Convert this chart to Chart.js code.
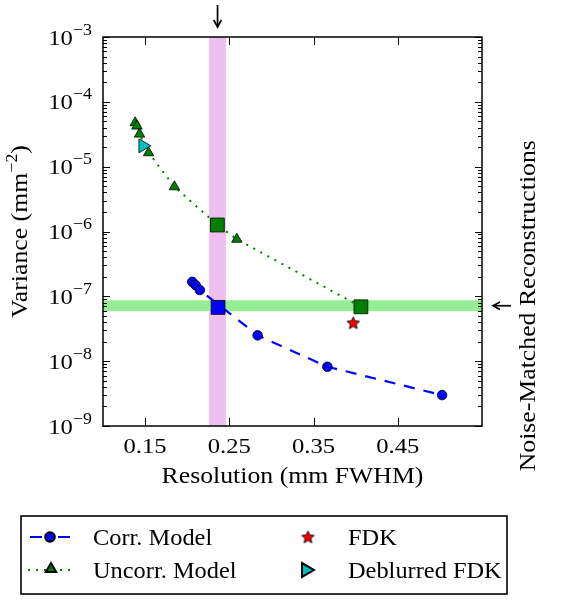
<!DOCTYPE html>
<html>
<head>
<meta charset="utf-8">
<script src="https://cdn.jsdelivr.net/npm/chart.js@4.4.1/dist/chart.umd.min.js"></script>
<style>
  html, body { margin: 0; padding: 0; background: #fff; }
  canvas { display: block; }
</style>
</head>
<body>
<canvas id="chart" width="570" height="601"></canvas>
<script>
// resolution (mm FWHM) / variance (mm^-2)
const corrRes = [0.206, 0.210, 0.215, 0.2836, 0.3664, 0.5026];
const corrVar = [1.67e-7, 1.49e-7, 1.25e-7, 2.5e-8, 8.2e-9, 3.0e-9];
const uncorrRes = [0.1382, 0.1403, 0.1434, 0.1541, 0.1848, 0.2358, 0.2589, 0.4062];
const uncorrVar = [4.75e-5, 4.23e-5, 3.18e-5, 1.64e-5, 4.9e-6, 1.26e-6, 7.6e-7, 6.9e-8];
const fdkRes = [0.3971];
const fdkVar = [3.9e-8];
const deblurRes = [0.1474];
const deblurVar = [2.1e-5];
// matched reconstructions (the squares)
const corrMatchRes = [0.2366];
const corrMatchVar = [6.75e-8];
const uncorrMatchRes = [0.2358, 0.4062];
const uncorrMatchVar = [1.26e-6, 6.9e-8];

// shaded bands: matched resolution and matched noise
const resBand = [0.226, 0.246];
const noiseBand = [5.9e-8, 8.7e-8];

const xTicks = [0.15, 0.25, 0.35, 0.45];
const yTickExps = [-9, -8, -7, -6, -5, -4, -3];

const SERIF = '"Liberation Serif", "DejaVu Serif", serif';
const TXT = 23;
const SX = 1.12; // stretch so the serif is about as wide as the original TeX font
function font(px) { return px + 'px ' + SERIF; }
function pts(xs, ys) { return xs.map((x, i) => ({ x: x, y: ys[i] })); }

// filled 5 point star for FDK (Chart.js 'star' is only an asterisk)
function makeStar(r) {
    const c = document.createElement('canvas');
    const s = Math.ceil(r * 2 + 4);
    c.width = s; c.height = s;
    const g = c.getContext('2d');
    g.beginPath();
    for (let i = 0; i < 10; i++) {
        const rr = i % 2 ? r * 0.48 : r;
        const a = -Math.PI / 2 + i * Math.PI / 5;
        g.lineTo(s / 2 + rr * Math.cos(a), s / 2 + rr * Math.sin(a) + 0.5);
    }
    g.closePath();
    g.fillStyle = '#ff0000';
    g.fill();
    g.lineWidth = 0.9;
    g.strokeStyle = '#000';
    g.stroke();
    return c;
}
const starImg = makeStar(6.5);

// text pieces: [text, size, rise]
function partsWidth(ctx, parts, sx) {
    let w = 0;
    parts.forEach(p => { ctx.font = font(p[1]); w += ctx.measureText(p[0]).width; });
    return w * (sx || SX);
}
function drawParts(ctx, parts, x, y, sx) {
    ctx.save();
    ctx.translate(x, y);
    ctx.scale(sx || SX, 1);
    ctx.textAlign = 'left';
    ctx.textBaseline = 'alphabetic';
    let cx = 0;
    parts.forEach(p => {
        ctx.font = font(p[1]);
        ctx.fillText(p[0], cx, -p[2]);
        cx += ctx.measureText(p[0]).width;
    });
    ctx.restore();
}
function label(ctx, text, x, y, align, sx) {
    const parts = [[text, TXT, 0]];
    const w = partsWidth(ctx, parts, sx);
    drawParts(ctx, parts, align === 'center' ? x - w / 2 : x, y, sx);
}
function seg(ctx, x0, y0, x1, y1) {
    ctx.beginPath();
    ctx.moveTo(x0, y0);
    ctx.lineTo(x1, y1);
    ctx.stroke();
}
function arrow(ctx, x0, y0, x1, y1) {
    const a = Math.atan2(y1 - y0, x1 - x0);
    const h = 8;
    seg(ctx, x0, y0, x1, y1);
    ctx.beginPath();
    ctx.moveTo(x1 - h * Math.cos(a - 0.5), y1 - h * Math.sin(a - 0.5));
    ctx.lineTo(x1, y1);
    ctx.lineTo(x1 - h * Math.cos(a + 0.5), y1 - h * Math.sin(a + 0.5));
    ctx.stroke();
}

const bandsPlugin = {
    id: 'bands',
    beforeDatasetsDraw(chart) {
        const { ctx, chartArea: a, scales: { x, y } } = chart;
        ctx.save();
        ctx.fillStyle = '#efc0ef';
        const bx0 = x.getPixelForValue(resBand[0]), bx1 = x.getPixelForValue(resBand[1]);
        ctx.fillRect(bx0, a.top, bx1 - bx0, a.bottom - a.top);
        ctx.fillStyle = '#95ee95';
        const by0 = y.getPixelForValue(noiseBand[1]), by1 = y.getPixelForValue(noiseBand[0]);
        ctx.fillRect(a.left, by0, a.right - a.left, by1 - by0);
        ctx.restore();
    }
};

const frameLegend = {
    id: 'frameLegend',
    afterDatasetsDraw(chart) {
        const { ctx, chartArea: a, scales: { x, y } } = chart;
        ctx.save();
        ctx.strokeStyle = '#000';
        ctx.fillStyle = '#000';

        // frame + inward ticks
        ctx.lineWidth = 1.5;
        ctx.strokeRect(a.left, a.top, a.right - a.left, a.bottom - a.top);
        ctx.lineWidth = 1;
        xTicks.forEach(v => {
            const px = Math.round(x.getPixelForValue(v)) + 0.5;
            seg(ctx, px, a.bottom, px, a.bottom - 8);
            seg(ctx, px, a.top, px, a.top + 8);
        });
        for (let i = 0; i < yTickExps.length; i++) {
            const e = yTickExps[i];
            const last = i === yTickExps.length - 1;
            for (let m = 1; m <= (last ? 1 : 9); m++) {
                const py = Math.round(y.getPixelForValue(m * Math.pow(10, e))) + 0.5;
                const len = m === 1 ? 7 : 4;
                seg(ctx, a.left, py, a.left + len, py);
                seg(ctx, a.right, py, a.right - len, py);
            }
        }

        // tick labels
        xTicks.forEach(v => {
            const parts = [[v.toFixed(2), 22, 0]];
            drawParts(ctx, parts, x.getPixelForValue(v) - partsWidth(ctx, parts) / 2, 453);
        });
        yTickExps.forEach(e => {
            const parts = [['10', 22, 0], ['\u2212' + Math.abs(e), 16, 10]];
            const w = partsWidth(ctx, parts);
            drawParts(ctx, parts, a.left - 11 - w, y.getPixelForValue(Math.pow(10, e)) + 7.5);
        });

        // axis titles
        label(ctx, 'Resolution (mm FWHM)', (a.left + a.right) / 2, 483, 'center');

        const yt = [['Variance (mm', TXT, 0], ['\u22122', 16, 10], [')', TXT, 0]];
        ctx.save();
        ctx.translate(19, (a.top + a.bottom) / 2);
        ctx.rotate(-Math.PI / 2);
        drawParts(ctx, yt, -partsWidth(ctx, yt) / 2, 8);
        ctx.restore();

        // matched markers: arrows and side label
        const bandX = x.getPixelForValue((resBand[0] + resBand[1]) / 2);
        const bandY = y.getPixelForValue(Math.sqrt(noiseBand[0] * noiseBand[1]));
        ctx.lineWidth = 1.7;
        arrow(ctx, bandX, 5, bandX, 27);
        arrow(ctx, 511, bandY, 493, bandY);

        ctx.save();
        ctx.translate(527, bandY);
        ctx.rotate(-Math.PI / 2);
        label(ctx, 'Noise-Matched Reconstructions', 0, 8, 'center');
        ctx.restore();

        // legend box
        ctx.lineWidth = 1.6;
        ctx.strokeRect(21, 516, 486, 78);
        const rows = [537, 570];
        const draw = Chart.helpers.drawPoint;

        ctx.lineWidth = 2.2;
        ctx.strokeStyle = '#0000ff';
        ctx.setLineDash([12, 16]);
        seg(ctx, 30, rows[0], 70, rows[0]);
        ctx.strokeStyle = '#008000';
        ctx.lineWidth = 2;
        ctx.setLineDash([2, 6]);
        seg(ctx, 28, rows[1], 76, rows[1]);
        ctx.setLineDash([]);

        ctx.strokeStyle = '#000';
        ctx.fillStyle = '#0000ff';
        draw(ctx, { pointStyle: 'circle', radius: 4.8, borderWidth: 0.8 }, 50, rows[0]);
        ctx.fillStyle = '#008000';
        draw(ctx, { pointStyle: 'triangle', radius: 6, borderWidth: 0.8 }, 51, rows[1] - 1);
        draw(ctx, { pointStyle: starImg, radius: 6.5, borderWidth: 0 }, 308, rows[0]);
        ctx.fillStyle = '#00bfbf';
        draw(ctx, { pointStyle: 'triangle', rotation: 90, radius: 8, borderWidth: 0.8 }, 306, rows[1]);

        ctx.fillStyle = '#000';
        const LSX = 1.06;
        label(ctx, 'Corr. Model', 93, rows[0] + 8, 'left', LSX);
        label(ctx, 'Uncorr. Model', 93, rows[1] + 8, 'left', LSX);
        label(ctx, 'FDK', 348, rows[0] + 8, 'left', LSX);
        label(ctx, 'Deblurred FDK', 348, rows[1] + 8, 'left', LSX);

        ctx.restore();
    }
};

new Chart(document.getElementById('chart'), {
    type: 'scatter',
    data: {
        datasets: [
            {
                label: 'Deblurred FDK',
                data: pts(deblurRes, deblurVar),
                pointStyle: 'triangle',
                rotation: 90,
                pointRadius: 8,
                backgroundColor: '#00bfbf',
                borderColor: '#000',
                borderWidth: 0.8,
                order: 0
            },
            {
                label: 'FDK',
                data: pts(fdkRes, fdkVar),
                pointStyle: starImg,
                pointRadius: 6.5,
                order: 0
            },
            {
                label: 'Uncorr. matched',
                data: pts(uncorrMatchRes, uncorrMatchVar),
                pointStyle: 'rect',
                pointRadius: 9.8,
                backgroundColor: '#008000',
                borderColor: '#000',
                borderWidth: 0.8,
                order: 1
            },
            {
                label: 'Corr. matched',
                data: pts(corrMatchRes, corrMatchVar),
                pointStyle: 'rect',
                pointRadius: 9.8,
                backgroundColor: '#0000ff',
                borderColor: '#000',
                borderWidth: 0.8,
                order: 1
            },
            {
                label: 'Uncorr. Model',
                data: pts(uncorrRes, uncorrVar),
                showLine: true,
                borderColor: '#008000',
                borderWidth: 2,
                borderDash: [2, 6],
                pointStyle: 'triangle',
                pointRadius: 6,
                pointBackgroundColor: '#008000',
                pointBorderColor: '#000',
                pointBorderWidth: 0.8,
                order: 2
            },
            {
                label: 'Corr. Model',
                data: pts(corrRes, corrVar),
                showLine: true,
                borderColor: '#0000ff',
                borderWidth: 2.2,
                borderDash: [11, 9],
                pointStyle: 'circle',
                pointRadius: 4.8,
                pointBackgroundColor: '#0000ff',
                pointBorderColor: '#000',
                pointBorderWidth: 0.8,
                order: 3
            }
        ]
    },
    options: {
        responsive: false,
        animation: false,
        layout: { padding: { left: 0, right: 88, top: 37, bottom: 0 } },
        plugins: {
            legend: { display: false },
            tooltip: { enabled: false }
        },
        scales: {
            x: {
                type: 'linear',
                min: 0.1,
                max: 0.55,
                grid: { display: false, drawTicks: false },
                border: { display: false },
                afterBuildTicks: s => { s.ticks = xTicks.map(v => ({ value: v })); },
                afterFit: s => { s.height = 175; },
                ticks: { display: false }
            },
            y: {
                type: 'logarithmic',
                min: 1e-9,
                max: 1e-3,
                grid: { display: false, drawTicks: false },
                border: { display: false },
                ticks: { display: false },
                afterFit: s => { s.width = 103; }
            }
        }
    },
    plugins: [bandsPlugin, frameLegend]
});
</script>
</body>
</html>
